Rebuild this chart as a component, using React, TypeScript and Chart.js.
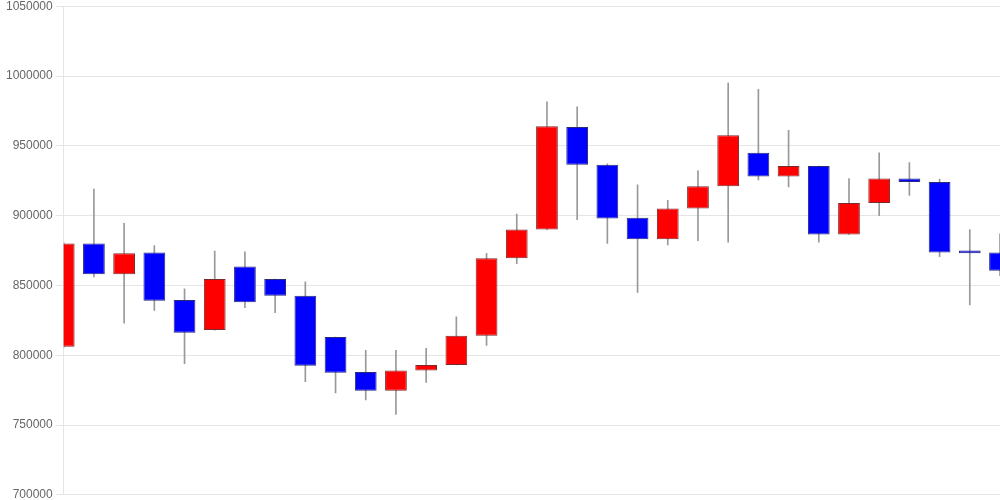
import React, { useEffect, useRef } from "react";
import { Chart, registerables } from "chart.js";

Chart.register(...registerables);

const labels = [
  "1", "2", "3", "4", "5", "6", "7", "8", "9", "10", "11", "12", "13", "14", "15", "16",
  "17", "18", "19", "20", "21", "22", "23", "24", "25", "26", "27", "28", "29", "30", "31", "32",
];
const openValues = [
  806000, 880000, 858000, 873500, 839500, 818000, 863500, 854500, 842500, 813000, 788000, 774500,
  789000, 793000, 814000, 869500, 890000, 963500, 936500, 898500, 883000, 905000, 921000, 945000,
  928000, 935500, 886500, 909000, 926500, 924000, 875000, 873500,
];
const highValues = [
  880500, 919000, 894500, 878500, 847500, 874500, 874000, 854500, 852500, 813000, 803500, 803500,
  805000, 827500, 873000, 901000, 981500, 978000, 937000, 922000, 911000, 932000, 995000, 990500,
  961000, 935500, 926500, 945000, 938000, 926000, 890000, 887000,
];
const lowValues = [
  805500, 856000, 823000, 832000, 794000, 818000, 834000, 830500, 781000, 773000, 768000, 757500,
  780500, 793000, 807000, 865500, 890000, 897000, 880000, 845000, 879000, 882000, 881000, 925500,
  920500, 881000, 886500, 900000, 914500, 870500, 836000, 857000,
];
const closeValues = [
  880000, 858000, 873000, 839000, 816000, 854500, 838000, 842500, 792500, 787500, 774500, 789000,
  793000, 814000, 869500, 890000, 964000, 936500, 898000, 883000, 905000, 921000, 957500, 928000,
  935500, 886500, 909000, 926500, 924000, 873500, 873000, 860500,
];
const yTicks = { min: 700000, max: 1050000, step: 50000 };

export default function App() {
  const ref = useRef<HTMLCanvasElement | null>(null);
  useEffect(() => {
    document.body.style.margin = "0";
    const ctx = ref.current!.getContext("2d")!;
    const bodies = openValues.map((o, i) => [o, closeValues[i]]);
    const wicks = lowValues.map((l, i) => [l, highValues[i]]);
    const colors = openValues.map((o, i) => (closeValues[i] >= o ? "#ff0000" : "#0000ff"));
    const borders = openValues.map((o, i) => (closeValues[i] >= o ? "#7a2a2a" : "#2a2a7a"));
    const chart = new Chart(ctx, {
      type: "bar",
      data: {
        labels,
        datasets: [
          {
            label: "body",
            data: bodies as any,
            backgroundColor: colors,
            borderColor: borders,
            borderWidth: 1,
            borderSkipped: false,
            grouped: false,
          } as any,
          {
            label: "wick",
            data: wicks as any,
            backgroundColor: "#999999",
            borderWidth: 0,
            barThickness: 1,
            grouped: false,
          } as any,
        ],
      },
      options: {
        responsive: false,
        animation: false,
        layout: { padding: { left: 3, right: 0, top: 0, bottom: 0 } },
        plugins: { legend: { display: false }, tooltip: { enabled: false } },
        scales: {
          x: { display: false, offset: false, grid: { offset: false } },
          y: {
            min: yTicks.min,
            max: yTicks.max,
            ticks: {
              stepSize: yTicks.step,
              color: "#666",
              font: { size: 12, family: "Arial, 'Liberation Sans', sans-serif" },
              callback: (v: any) => String(v),
            },
            grid: { color: "rgba(0,0,0,0.1)" },
            border: { color: "rgba(0,0,0,0.1)" },
          },
        },
      },
    });
    return () => chart.destroy();
  }, []);
  return (
    <div style={{ position: "absolute", left: 0, top: -4, width: 1000, height: 509 }}>
      <canvas ref={ref} width={1000} height={509} style={{ display: "block" }} />
    </div>
  );
}
